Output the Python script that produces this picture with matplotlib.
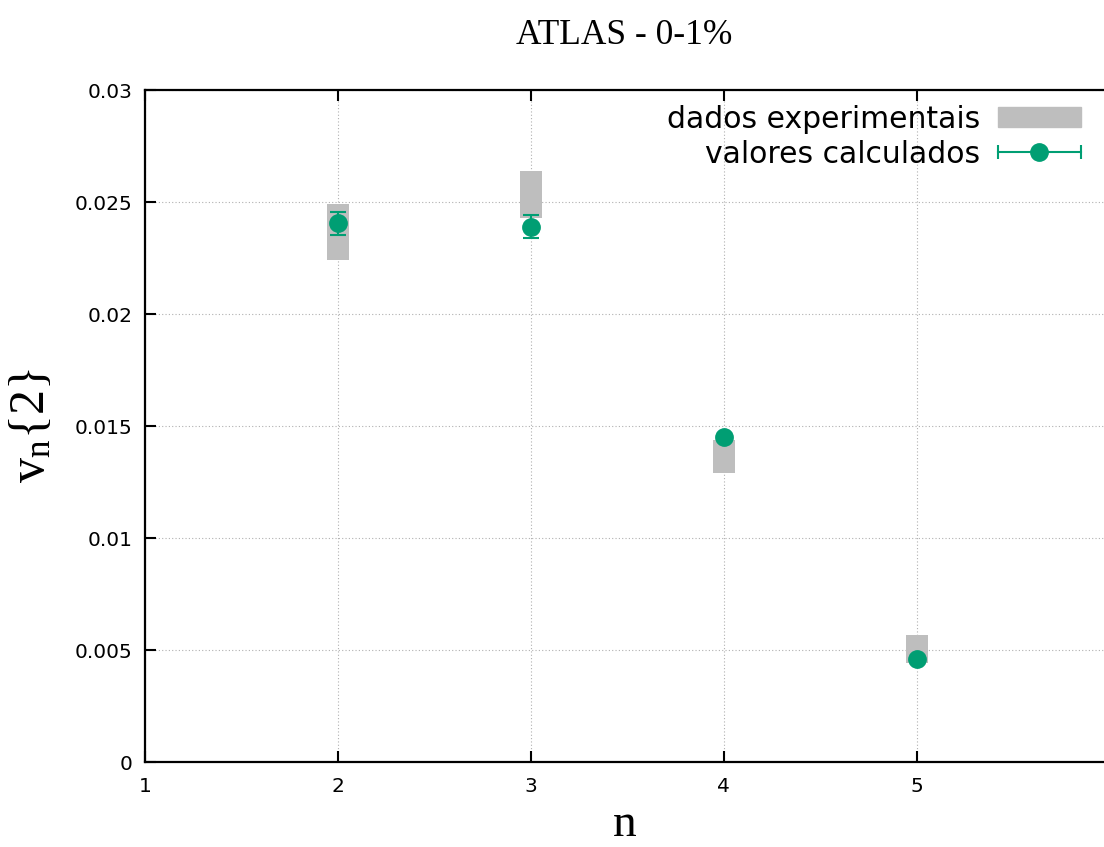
import matplotlib
matplotlib.use("Agg")
import matplotlib.pyplot as plt
from matplotlib.legend_handler import HandlerBase
from matplotlib.lines import Line2D
from matplotlib.patches import Patch

# experimental data (gray boxes): centre and half-height
n_exp = [2, 3, 4, 5]
v_exp = [0.02366, 0.02533, 0.01364, 0.00505]
v_exp_err = [0.00125, 0.00105, 0.00074, 0.00063]

# calculated values (green points)
n_calc = [2, 3, 4, 5]
v_calc = [0.02405, 0.02390, 0.01451, 0.00460]
v_calc_err = [0.00051, 0.00051, 0.00008, 0.00005]

green = '#009e73'
gray = '#bebebe'

plt.rcParams['mathtext.fontset'] = 'custom'
plt.rcParams['mathtext.rm'] = 'Liberation Serif'
plt.rcParams['mathtext.it'] = 'Liberation Serif:italic'


class ErrHandler(HandlerBase):
    # gnuplot-like legend sample: line with caps and a dot in the middle
    def create_artists(self, legend, orig, xd, yd, w, h, fs, trans):
        y = h / 2 - yd
        line = Line2D([-xd, w - xd], [y, y], color=green, lw=1.5, transform=trans)
        caps = Line2D([-xd, w - xd], [y, y], ls='none', marker='|', ms=10,
                      mew=1.5, color=green, transform=trans)
        dot = Line2D([w / 2 - xd], [y], ls='none', marker='o', ms=12.5,
                     color=green, transform=trans)
        return [line, caps, dot]


fig = plt.figure(figsize=(11.04, 8.47), dpi=100)
ax = fig.add_axes([145 / 1104, 85 / 847, 959 / 1104, 672 / 847])

lo = [v - e for v, e in zip(v_exp, v_exp_err)]
hgt = [2 * e for e in v_exp_err]
ax.bar(n_exp, hgt, bottom=lo, width=0.115, color=gray, zorder=2)
ax.errorbar(n_calc, v_calc, yerr=v_calc_err, fmt='o', color=green, ms=12.5,
            capsize=6, elinewidth=1.5, capthick=1.5, zorder=3)

ax.set_xlim(1, 5.97)
ax.set_ylim(0, 0.03)
ax.set_xticks([1, 2, 3, 4, 5])
ax.set_yticks([0, 0.005, 0.01, 0.015, 0.02, 0.025, 0.03])
ax.set_yticklabels(['0', '0.005', '0.01', '0.015', '0.02', '0.025', '0.03'])
ax.grid(True, color='#b0b0b0', ls=(0, (1, 2)), lw=0.8, zorder=0)
ax.set_axisbelow(True)

ax.tick_params(direction='in', length=8, width=1.5, labelsize=14.5,
               top=True, right=False, pad=9)
ax.tick_params(axis='x', pad=11)
for s in ['left', 'bottom', 'top']:
    ax.spines[s].set_linewidth(1.6)
ax.spines['right'].set_visible(False)

ax.set_title('ATLAS - 0-1%', family='Liberation Serif', fontsize=25.5, pad=33)
ax.set_xlabel('n', family='Liberation Serif', fontsize=34, labelpad=5)
ax.set_ylabel(r'$\mathrm{v_n\{2\}}$', family='Liberation Serif', fontsize=36, labelpad=14)

handles = [Patch(color=gray), Line2D([], [], color=green)]
labels = ['dados experimentais', 'valores calculados']
ax.legend(handles, labels, handler_map={handles[1]: ErrHandler()},
          loc='upper right', bbox_to_anchor=(0.976, 0.978), frameon=False,
          fontsize=21.5, markerfirst=False, handlelength=2.78, handletextpad=0.6,
          labelspacing=0.2, borderpad=0, borderaxespad=0, handleheight=0.64)

fig.savefig('out.png', dpi=100)
